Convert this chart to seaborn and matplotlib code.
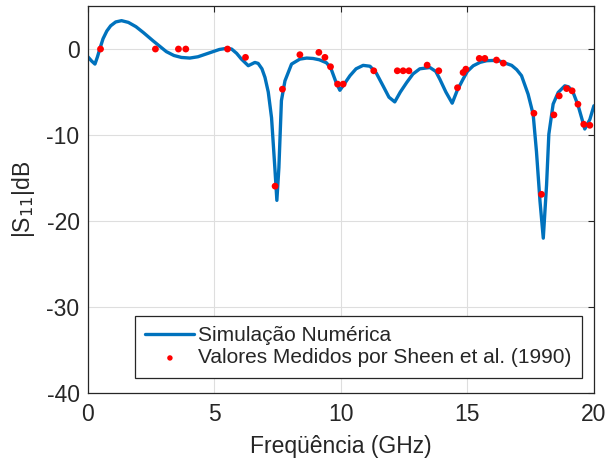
import matplotlib
matplotlib.use("Agg")
import matplotlib.pyplot as plt
import seaborn as sns
import pandas as pd

# Simulated curve (GHz, dB)
sim_freq = [0.00, 0.15, 0.28, 0.38, 0.47, 0.60, 0.75, 0.90, 1.10, 1.33, 1.60, 1.90,
            2.20, 2.57, 2.85, 3.10, 3.40, 3.70, 4.03, 4.35, 4.65, 4.95, 5.20, 5.48,
            5.68, 5.88, 6.07, 6.34, 6.60, 6.73, 6.88, 7.00, 7.13, 7.26, 7.39, 7.47,
            7.55, 7.65, 7.79, 8.05, 8.38, 8.65, 8.90, 9.15, 9.43, 9.60, 9.80, 9.96,
            10.15, 10.36, 10.60, 10.88, 11.15, 11.40, 11.67, 11.90, 12.13, 12.35,
            12.60, 12.85, 13.12, 13.52, 13.75, 13.91, 14.15, 14.40, 14.60, 14.83,
            15.00, 15.23, 15.50, 15.76, 16.00, 16.28, 16.42, 16.75, 16.95, 17.14,
            17.40, 17.60, 17.73, 17.87, 18.00, 18.13, 18.22, 18.39, 18.59, 18.85,
            19.00, 19.18, 19.38, 19.64, 19.84, 20.00]
sim_db = [-0.9, -1.4, -1.75, -0.9, 0.0, 1.2, 2.1, 2.7, 3.15, 3.3, 3.1, 2.6,
          1.9, 0.97, 0.3, -0.3, -0.75, -0.98, -1.05, -0.9, -0.6, -0.3, -0.05, 0.08,
          0.0, -0.5, -1.17, -1.94, -1.56, -1.67, -2.3, -3.3, -5.0, -8.0, -13.8, -17.6,
          -13.8, -6.0, -3.7, -1.75, -1.17, -1.05, -1.1, -1.25, -1.6, -2.2, -3.8, -4.8,
          -4.0, -3.1, -2.3, -1.9, -2.0, -2.8, -4.3, -5.6, -6.15, -5.0,
          -3.9, -2.9, -2.3, -2.15, -2.6, -3.5, -5.0, -6.3, -4.8, -3.5,
          -2.6, -1.95, -1.55, -1.36, -1.33, -1.4, -1.56, -1.9, -2.4, -3.1,
          -5.25, -7.6, -11.9, -17.7, -22.0, -15.8, -9.9, -6.4, -5.05, -4.28,
          -4.4, -5.05, -6.6, -9.3, -8.2, -6.6]

# Measured values (Sheen et al., 1990)
meas_freq = [0.50, 2.67, 3.58, 3.87, 5.52, 6.23, 7.40, 7.69, 8.38, 9.13, 9.37, 9.59,
             9.87, 10.09, 11.30, 12.23, 12.46, 12.69, 13.41, 13.87, 14.61, 14.83,
             14.94, 15.47, 15.69, 16.15, 16.42, 17.63, 17.93, 18.42, 18.63, 18.92,
             19.14, 19.37, 19.60, 19.84]
meas_db = [0.0, 0.0, 0.0, 0.0, 0.0, -0.97, -15.95, -4.67, -0.66, -0.39, -0.97, -2.06,
           -4.08, -4.08, -2.53, -2.53, -2.53, -2.53, -1.87, -2.53, -4.5, -2.73,
           -2.34, -1.09, -1.09, -1.28, -1.64, -7.47, -16.9, -7.66, -5.45, -4.6,
           -4.86, -6.42, -8.75, -8.87]

x_ticks = [0, 5, 10, 15, 20]
y_ticks = [-40, -30, -20, -10, 0]

sim = pd.DataFrame({"f": sim_freq, "db": sim_db})
meas = pd.DataFrame({"f": meas_freq, "db": meas_db})

sns.set_theme(style="whitegrid")
plt.rcParams["font.family"] = ["Liberation Sans", "DejaVu Sans"]
plt.rcParams["axes.unicode_minus"] = False

fig = plt.figure(figsize=(6.06, 4.65), dpi=100)
ax = fig.add_axes([0.145, 0.155, 0.835, 0.832])

sns.lineplot(data=sim, x="f", y="db", ax=ax, color="#0072BD", linewidth=2.4,
             label="Simulação Numérica", sort=False)
sns.scatterplot(data=meas, x="f", y="db", ax=ax, color="#FF0000", s=24,
                edgecolor="none", label="Valores Medidos por Sheen et al. (1990)",
                zorder=3)

ax.set_xlim(0, 20)
ax.set_ylim(-40, 5)
ax.set_xticks(x_ticks)
ax.set_yticks(y_ticks)
ax.grid(True, color="#dedede", linewidth=0.8)
ax.set_facecolor("white")
for s in ax.spines.values():
    s.set_color("#262626")
    s.set_linewidth(0.9)
ax.tick_params(axis="both", which="both", direction="in", length=4, width=0.8,
               colors="#262626", labelsize=16.5, top=True, right=True,
               labelcolor="#262626")
ax.tick_params(axis="x", pad=7)
ax.tick_params(axis="y", pad=6)
ax.set_xlabel("Freqüência (GHz)", fontsize=16.5, color="#262626", labelpad=7)
ax.set_ylabel("|S$_{11}$|dB", fontsize=16.5, color="#262626", labelpad=7)

leg = ax.legend(loc="lower right", bbox_to_anchor=(0.976, 0.039), borderaxespad=0,
                fontsize=15, frameon=True, fancybox=False, framealpha=1,
                edgecolor="#262626", handlelength=2.35, handletextpad=0.17,
                borderpad=0.5, labelspacing=0.15, markerscale=0.8)
leg.get_frame().set_linewidth(0.9)

fig.savefig("out.png", dpi=100)
